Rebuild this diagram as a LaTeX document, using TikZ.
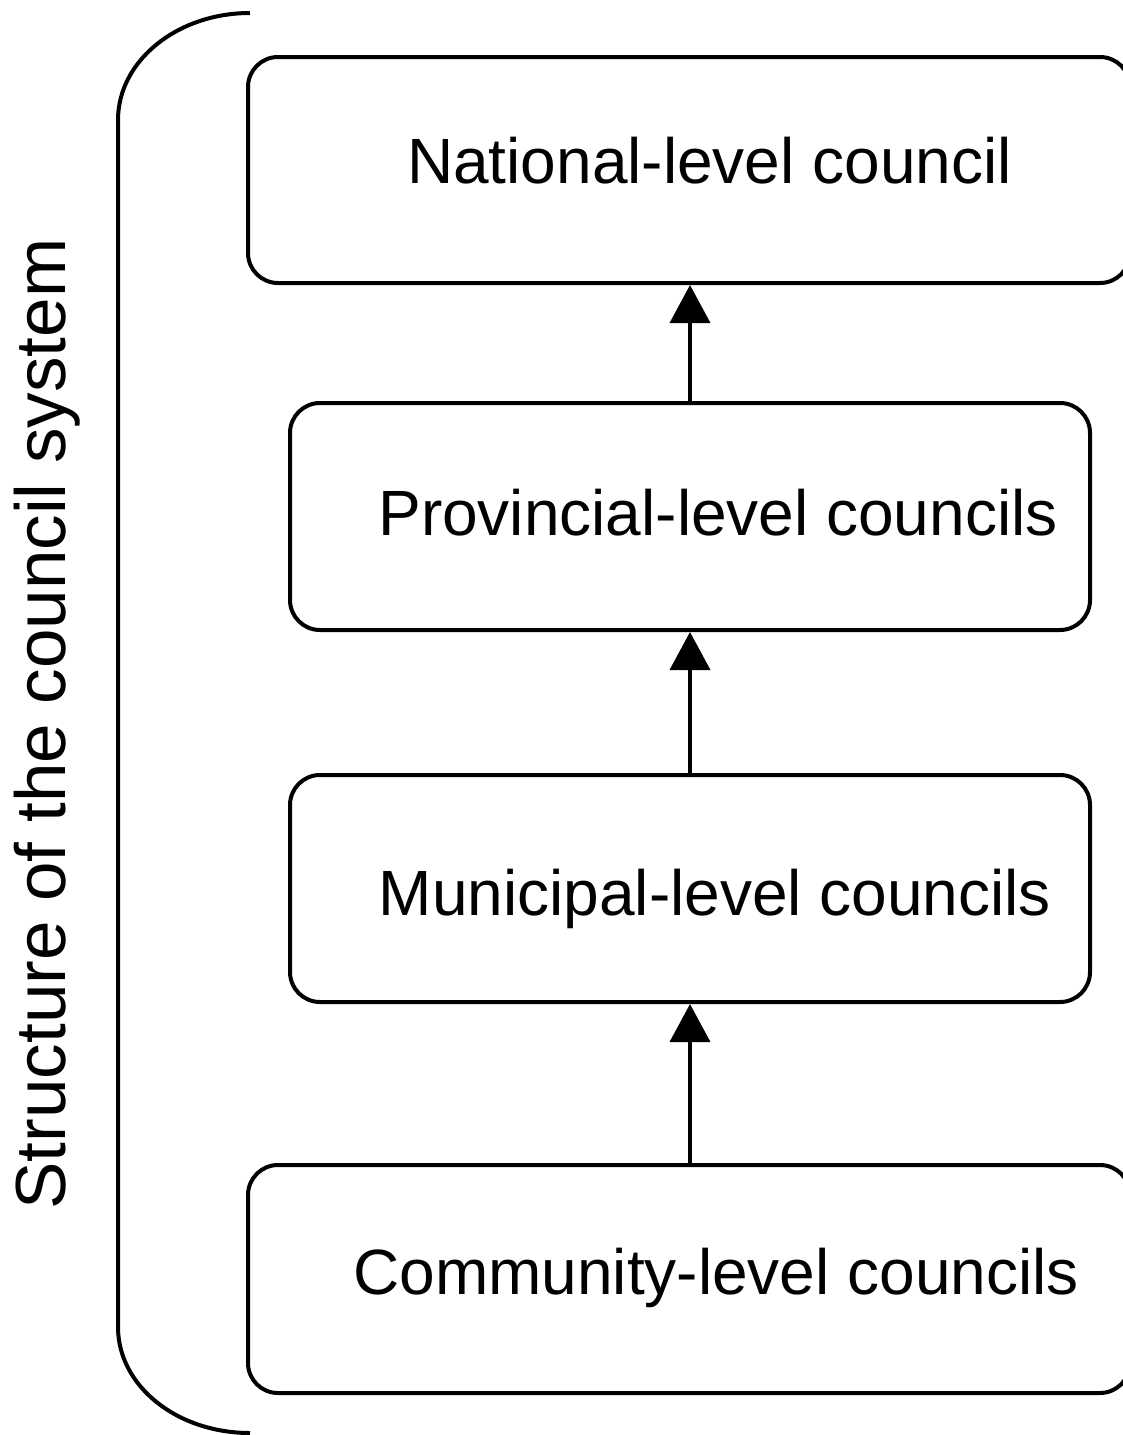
\documentclass[tikz,border=0pt]{standalone}
\usepackage{fontspec}
\setmainfont{Liberation Sans}
\usetikzlibrary{arrows.meta}
\begin{document}
\begin{tikzpicture}[x=1pt,y=-1pt,
  box/.style={draw=black, line width=4pt, rounded corners=30pt, inner sep=0pt},
  lbl/.style={anchor=base, inner sep=0pt, font=\fontsize{64}{70}\selectfont},
  uparrow/.style={line width=3.8pt, -{Triangle[width=40pt,length=38pt]}}]
\useasboundingbox (0,0) rectangle (1123,1435);
\clip (0,0) rectangle (1123,1435);
\fill[white] (0,0) rectangle (1123,1435);
% boxes
\node[box, minimum width=882pt, minimum height=226pt] (nat) at (689,170) {};
\node[box, minimum width=800pt, minimum height=227pt] (prov) at (690,516.5) {};
\node[box, minimum width=800pt, minimum height=227pt] (muni) at (690,888.5) {};
\node[box, minimum width=882pt, minimum height=228pt] (comm) at (689,1279) {};
% labels
\node[lbl] (natt) at (709.5,183) {National-level council};
\node[lbl] (provt) at (718,535) {Provincial-level councils};
\node[lbl] (munit) at (715,915) {Municipal-level councils};
\node[lbl] (commt) at (716,1294) {Community-level councils};
% arrows
\draw[uparrow] (prov.north) -- (prov.north |- nat.south);
\draw[uparrow] (muni.north) -- (muni.north |- prov.south);
\draw[uparrow] (comm.north -| muni.north) -- (muni.south);
% bracket
\coordinate (btop) at (250,13);
\coordinate (bbot) at (250,1433);
\draw[line width=4pt] (btop) .. controls (177,13) and (118,61) .. (118,120)
  -- (118,1327) .. controls (118,1386) and (177,1433) .. (bbot);
% vertical title
\node[anchor=base, inner sep=0pt, rotate=90, font=\fontsize{71}{78}\selectfont] (title) at (65,724) {Structure of the council system};
\end{tikzpicture}
\end{document}
